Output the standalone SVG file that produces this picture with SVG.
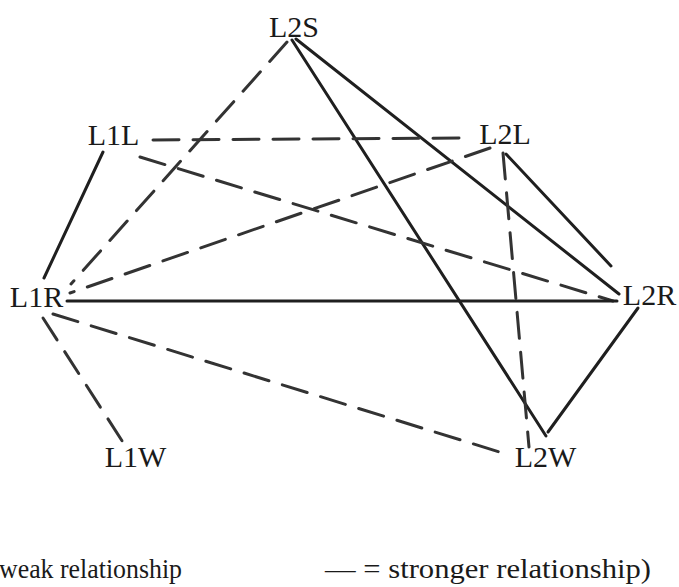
<svg xmlns="http://www.w3.org/2000/svg" width="679" height="587" viewBox="0 0 679 587">
<style>
.lbl{font-family:"Liberation Serif","Times New Roman",serif;font-size:30px;fill:#1a1a1a;text-anchor:middle}
.leg{font-family:"Liberation Serif","Times New Roman",serif;font-size:28px;fill:#1a1a1a}
.strong{stroke:#1f1f1f;stroke-width:3;fill:none;stroke-linecap:round}
.weak{stroke:#333333;stroke-width:3;fill:none;stroke-dasharray:26 14;stroke-linecap:round}
</style>
<rect width="679" height="587" fill="#ffffff"/>
<g id="connectors">
<line class="weak" x1="287" y1="42" x2="71" y2="284"/>
<line class="strong" x1="292" y1="40" x2="546" y2="436"/>
<line class="strong" x1="296" y1="39" x2="619" y2="294"/>
<line class="weak" x1="153" y1="140" x2="468" y2="138"/>
<line class="weak" x1="140" y1="157" x2="613" y2="301"/>
<line class="strong" x1="103" y1="152" x2="44" y2="278"/>
<line class="weak" x1="490" y1="148" x2="70" y2="293"/>
<line class="weak" x1="503" y1="153" x2="529" y2="447"/>
<line class="strong" x1="506" y1="154" x2="611" y2="266"/>
<line class="strong" x1="67" y1="301" x2="617" y2="301"/>
<line class="weak" x1="53" y1="314" x2="506" y2="454"/>
<line class="weak" x1="43" y1="318" x2="126" y2="447"/>
<line class="strong" x1="638" y1="308" x2="548" y2="432"/>
</g>
<g id="L2S"><text class="lbl" x="294" y="37">L2S</text></g>
<g id="L1L"><text class="lbl" x="113.5" y="145">L1L</text></g>
<g id="L2L"><text class="lbl" x="505" y="144">L2L</text></g>
<g id="L1R"><text class="lbl" x="36.5" y="307">L1R</text></g>
<g id="L2R"><text class="lbl" x="649.5" y="305">L2R</text></g>
<g id="L1W"><text class="lbl" x="135.5" y="467">L1W</text></g>
<g id="L2W"><text class="lbl" x="545.5" y="467">L2W</text></g>
<g id="legend">
<text class="leg" x="-1" y="578" textLength="183" lengthAdjust="spacingAndGlyphs">weak relationship</text>
<text class="leg" x="325" y="578" textLength="326" lengthAdjust="spacingAndGlyphs">— = stronger relationship)</text>
</g>
</svg>
